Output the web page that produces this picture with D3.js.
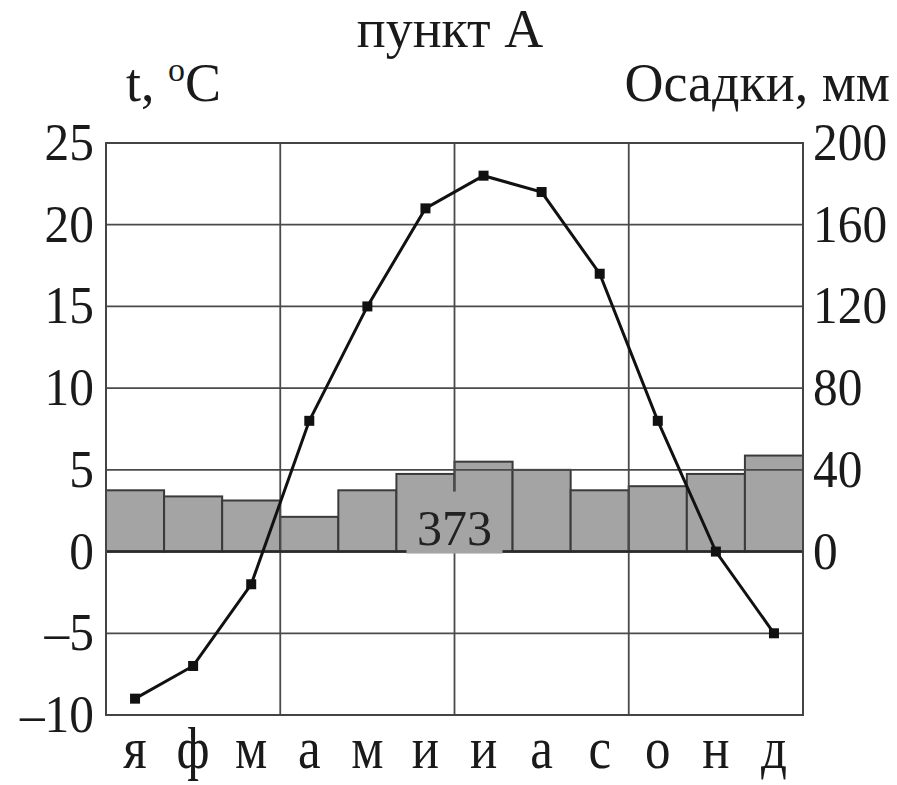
<!DOCTYPE html>
<html><head><meta charset="utf-8">
<script src="https://cdn.jsdelivr.net/npm/d3@7"></script>
<style>body{margin:0;background:#fff}svg{display:block}</style>
</head><body>
<svg id="c" width="897" height="785"></svg>
<script>
const months = ["я","ф","м","а","м","и","и","а","с","о","н","д"];
const temperature = [-9,-7,-2,8,15,21,23,22,17,8,0,-5];
const precipitation = [30,27,25,17,30,38,44,40,30,32,38,47];
const tempTicks = [-10,-5,0,5,10,15,20,25];
const precTicks = [0,40,80,120,160,200];
const annualTotal = "373";
const title = "пункт А";

const svg = d3.select("#c");
const L = 106, R = 803, T = 143, B = 715;
const FONT = "'Liberation Serif','Times New Roman',serif";

const x = d3.scaleBand().domain(d3.range(12)).range([L, R]).padding(0);
const yT = d3.scaleLinear().domain([-10, 25]).range([B, T]);
const yP = d3.scaleLinear().domain([-80, 200]).range([B, T]);

// bars
svg.append("g").selectAll("rect").data(precipitation).join("rect")
  .attr("x", (d,i) => x(i)).attr("width", x.bandwidth())
  .attr("y", d => yP(d)).attr("height", d => yP(0) - yP(d))
  .attr("fill", "#a4a4a4").attr("stroke", "#3a3a3a").attr("stroke-width", 2);

// grid
const grid = svg.append("g").attr("stroke", "#4a4a4a").attr("stroke-width", 1.8);
grid.selectAll("line.h").data(tempTicks.filter(t => t > -10 && t < 25)).join("line")
  .attr("x1", L).attr("x2", R).attr("y1", d => yT(d)).attr("y2", d => yT(d));
grid.selectAll("line.v").data([3,6,9]).join("line").attr("class","v")
  .attr("y1", T).attr("y2", B).attr("x1", d => x(d)).attr("x2", d => x(d));
svg.append("line").attr("x1", L).attr("x2", R).attr("y1", yT(0)).attr("y2", yT(0))
  .attr("stroke", "#2a2a2a").attr("stroke-width", 2.5);

// total label
const cx = x(6), ty = yT(0) - 24;
svg.append("rect").attr("x", cx - 48).attr("y", ty - 36).attr("width", 96).attr("height", 62)
  .attr("fill", "#a4a4a4");
svg.append("text").attr("x", cx).attr("y", ty + 17).attr("text-anchor", "middle")
  .attr("font-family", FONT).attr("font-size", 50).attr("fill", "#222").text(annualTotal);

// frame
svg.append("rect").attr("x", L).attr("y", T).attr("width", R - L).attr("height", B - T)
  .attr("fill", "none").attr("stroke", "#444").attr("stroke-width", 2);

// temperature line
const line = d3.line().x((d,i) => x(i) + x.bandwidth()/2).y(d => yT(d));
svg.append("path").datum(temperature).attr("d", line)
  .attr("fill", "none").attr("stroke", "#111").attr("stroke-width", 3);
svg.append("g").selectAll("rect").data(temperature).join("rect")
  .attr("x", (d,i) => x(i) + x.bandwidth()/2 - 5).attr("y", d => yT(d) - 5)
  .attr("width", 10).attr("height", 10).attr("fill", "#111");

function txt(px, py, s, size, anchor, sx) {
  svg.append("text").attr("transform", `translate(${px},${py}) scale(${sx},1)`)
    .attr("text-anchor", anchor).attr("font-family", FONT).attr("font-size", size)
    .attr("fill", "#1a1a1a").text(s);
}
const fmt = v => v < 0 ? "–" + Math.abs(v) : String(v);
tempTicks.forEach(t => txt(94, yT(t) + 17, fmt(t), 52, "end", 0.95));
precTicks.forEach(p => txt(813, yP(p) + 17, String(p), 52, "start", 0.95));
months.forEach((m, i) => txt(x(i) + x.bandwidth()/2, 768, m, 60, "middle", 0.85));

// titles
svg.append("text").attr("x", 450).attr("y", 47).attr("text-anchor", "middle")
  .attr("font-family", FONT).attr("font-size", 54).attr("fill", "#1a1a1a").text(title);
const tl = svg.append("text").attr("x", 126).attr("y", 101)
  .attr("font-family", FONT).attr("font-size", 54).attr("fill", "#1a1a1a");
tl.append("tspan").text("t, ");
tl.append("tspan").attr("font-size", 34).attr("dy", -20).text("o");
tl.append("tspan").attr("dy", 20).text("C");
svg.append("text").attr("x", 890).attr("y", 101).attr("text-anchor", "end")
  .attr("font-family", FONT).attr("font-size", 54).attr("fill", "#1a1a1a").text("Осадки, мм");
</script>
</body></html>
